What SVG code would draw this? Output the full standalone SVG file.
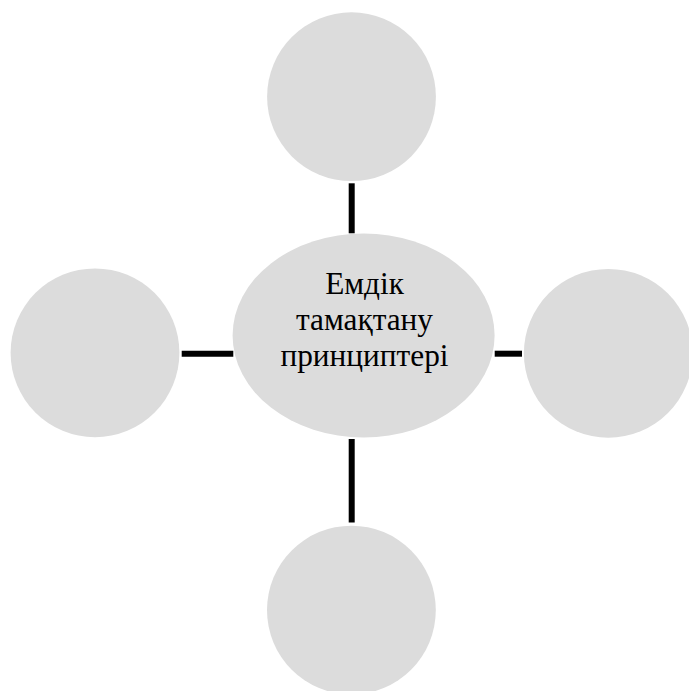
<svg xmlns="http://www.w3.org/2000/svg" width="689" height="691" viewBox="0 0 689 691">
<style>
.n{fill:#dcdcdc;stroke:none}
.c{stroke:#000;stroke-width:6;fill:none;stroke-linecap:butt}
.t{font-family:"Liberation Serif","Times New Roman",serif;font-size:31.3px;fill:#000;text-anchor:middle}
</style>
<rect width="689" height="691" fill="#fff"/>
<g id="connectors">
<line class="c" x1="351.7" y1="183.3" x2="351.7" y2="233.3"/>
<line class="c" x1="351.7" y1="439" x2="351.7" y2="522.5"/>
<line class="c" x1="181.7" y1="353.7" x2="233.3" y2="353.7"/>
<line class="c" x1="494.7" y1="353.7" x2="522" y2="353.7"/>
</g>
<g id="node-top"><circle class="n" cx="351.5" cy="96.7" r="84.4"/></g>
<g id="node-left"><circle class="n" cx="95" cy="352.8" r="84.4"/></g>
<g id="node-right"><circle class="n" cx="608.3" cy="353.3" r="84.4"/></g>
<g id="node-bottom"><circle class="n" cx="351.4" cy="610.1" r="84.4"/></g>
<g id="node-center">
<ellipse class="n" cx="363.6" cy="335.5" rx="131" ry="102"/>
<text class="t" x="364.5" y="293.5">Емдік</text>
<text class="t" x="364.5" y="329.5">тамақтану</text>
<text class="t" x="364.5" y="366">принциптері</text>
</g>
</svg>
